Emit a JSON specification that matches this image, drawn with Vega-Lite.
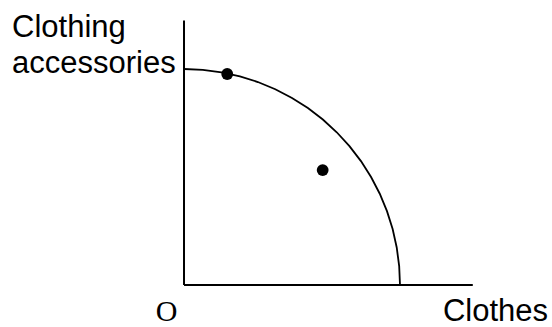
{
  "$schema": "https://vega.github.io/schema/vega-lite/v6.json",
  "width": 552,
  "height": 327,
  "autosize": {"type": "none"},
  "padding": 0,
  "background": "white",
  "config": {"view": {"stroke": null}},
  "datasets": {
    "axes": [
      {"x": 0, "y": 0, "x2": 0, "y2": 122.4},
      {"x": 0, "y": 0, "x2": 133.7, "y2": 0}
    ],
    "frontier": [
      {"angle": 0, "clothes": 100, "accessories": 0},
      {"angle": 5, "clothes": 99.62, "accessories": 8.72},
      {"angle": 10, "clothes": 98.48, "accessories": 17.36},
      {"angle": 15, "clothes": 96.59, "accessories": 25.88},
      {"angle": 20, "clothes": 93.97, "accessories": 34.2},
      {"angle": 25, "clothes": 90.63, "accessories": 42.26},
      {"angle": 30, "clothes": 86.6, "accessories": 50},
      {"angle": 35, "clothes": 81.92, "accessories": 57.36},
      {"angle": 40, "clothes": 76.6, "accessories": 64.28},
      {"angle": 45, "clothes": 70.71, "accessories": 70.71},
      {"angle": 50, "clothes": 64.28, "accessories": 76.6},
      {"angle": 55, "clothes": 57.36, "accessories": 81.92},
      {"angle": 60, "clothes": 50, "accessories": 86.6},
      {"angle": 65, "clothes": 42.26, "accessories": 90.63},
      {"angle": 70, "clothes": 34.2, "accessories": 93.97},
      {"angle": 75, "clothes": 25.88, "accessories": 96.59},
      {"angle": 80, "clothes": 17.36, "accessories": 98.48},
      {"angle": 85, "clothes": 8.72, "accessories": 99.62},
      {"angle": 90, "clothes": 0, "accessories": 100}
    ],
    "points": [
      {"clothes": 20.0, "accessories": 97.7},
      {"clothes": 64.2, "accessories": 53.2}
    ],
    "labels": [
      {"x": -79.6, "y": 115.0, "text": "Clothing"},
      {"x": -79.6, "y": 98.0, "text": "accessories"},
      {"x": 119.9, "y": -16.7, "text": "Clothes"}
    ],
    "origin": [
      {"x": -8.1, "y": -16.7, "text": "O"}
    ]
  },
  "layer": [
    {
      "data": {"name": "axes"},
      "mark": {"type": "rule", "stroke": "black", "strokeWidth": 2},
      "encoding": {
        "x": {"field": "x", "type": "quantitative", "scale": {"domain": [-85.19, 170.37], "nice": false, "zero": false}, "axis": null},
        "y": {"field": "y", "type": "quantitative", "scale": {"domain": [-19.44, 131.94], "nice": false, "zero": false}, "axis": null},
        "x2": {"field": "x2"},
        "y2": {"field": "y2"}
      }
    },
    {
      "data": {"name": "frontier"},
      "mark": {"type": "line", "stroke": "black", "strokeWidth": 1.8},
      "encoding": {
        "x": {"field": "clothes", "type": "quantitative"},
        "y": {"field": "accessories", "type": "quantitative"},
        "order": {"field": "angle", "type": "quantitative"}
      }
    },
    {
      "data": {"name": "points"},
      "mark": {"type": "point", "shape": "circle", "filled": true, "fill": "black", "strokeWidth": 0, "size": 140, "opacity": 1},
      "encoding": {
        "x": {"field": "clothes", "type": "quantitative"},
        "y": {"field": "accessories", "type": "quantitative"}
      }
    },
    {
      "data": {"name": "labels"},
      "mark": {"type": "text", "font": "Liberation Sans", "fontSize": 31, "align": "left", "baseline": "alphabetic", "color": "black"},
      "encoding": {
        "x": {"field": "x", "type": "quantitative"},
        "y": {"field": "y", "type": "quantitative"},
        "text": {"field": "text"}
      }
    },
    {
      "data": {"name": "origin"},
      "mark": {"type": "text", "font": "Liberation Serif", "fontSize": 30, "align": "center", "baseline": "alphabetic", "color": "black"},
      "encoding": {
        "x": {"field": "x", "type": "quantitative"},
        "y": {"field": "y", "type": "quantitative"},
        "text": {"field": "text"}
      }
    }
  ]
}
